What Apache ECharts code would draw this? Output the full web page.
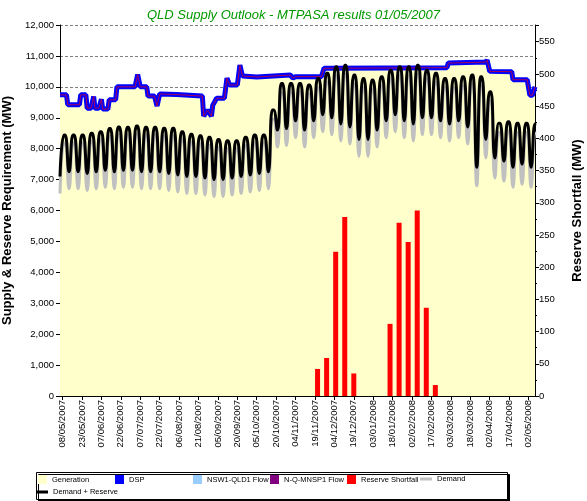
<!DOCTYPE html>
<html>
<head>
<meta charset="utf-8">
<script src="https://cdn.jsdelivr.net/npm/echarts@6/dist/echarts.min.js"></script>
<style>
  html, body { margin: 0; padding: 0; background: #fff; }
  #chart { width: 587px; height: 501px; }
</style>
</head>
<body>
<div id="chart"></div>
<script>
// x = day number, day 0 = Sunday 06/05/2007
var tickLabels = ['08/05/2007','23/05/2007','07/06/2007','22/06/2007','07/07/2007','22/07/2007',
    '06/08/2007','21/08/2007','05/09/2007','20/09/2007','05/10/2007','20/10/2007','04/11/2007',
    '19/11/2007','04/12/2007','19/12/2007','03/01/2008','18/01/2008','02/02/2008','17/02/2008',
    '03/03/2008','18/03/2008','02/04/2008','17/04/2008','02/05/2008'];

// generation (+DSP) level, break points
var supplyDays = [0,5,6,15,16,20,21,24,26,27,30,32,33,37,38,43,44,58,60,62,67,68,73,75,77,90,110,111,114,117,
    118,121,127,129,131,137,139,141,152,178,180,182,202,204,299,300,329,330,332,349,350,361,363,365,367];
var supplyMW = [9740,9740,9420,9420,9740,9740,9310,9310,9690,9310,9310,9600,9280,9280,9580,9580,10000,10000,10400,10000,
    10000,9700,9700,9380,9770,9750,9700,9050,9250,9050,9400,9630,9630,10280,10060,10060,10700,10350,10320,10380,
    10280,10330,10330,10600,10620,10770,10800,10870,10500,10490,10230,10230,9730,9730,10000];

// weekly weekday peak / sunday trough
var resPeak = [8440,8440,8440,8500,8550,8650,8700,8690,8730,8690,
    8690,8660,8660,8550,8470,8420,8370,8300,8260,8260,
    8370,8440,8440,9250,10110,10110,10110,10060,10270,10440,
    10650,10700,10380,10270,10220,10330,10540,10650,10650,10700,
    10540,10440,10270,10270,10330,10380,10330,9840,8820,8870,
    8820,8820,8800];
var resTrough = [7100,7250,7250,7200,7250,7300,7250,7300,7300,7250,
    7250,7250,7200,7150,7100,7100,7050,7000,7000,7050,
    7100,7150,7200,7250,8600,8650,8900,8600,8900,9100,
    9000,8800,8700,8300,8300,8600,8900,9100,8900,8800,
    9000,9000,8900,8800,8900,8700,7400,8300,7700,7600,
    7400,7500,7400];
var demPeak = [8180,8180,8180,8240,8290,8390,8440,8430,8470,8430,
    8430,8400,8400,8290,8210,8160,8110,8040,8000,8000,
    8110,8180,8180,8950,9820,9830,9830,9770,9970,10150,
    10350,10400,10090,9970,9920,10030,10250,10350,10350,10400,
    10250,10150,9970,9970,10030,10090,10030,9550,8520,8570,
    8520,8520,8500];
var demTrough = [6550,6700,6700,6650,6700,6750,6700,6750,6750,6700,
    6700,6700,6650,6600,6550,6550,6500,6450,6450,6500,
    6550,6600,6650,6700,8050,8100,8350,8050,8350,8550,
    8450,8250,8150,7750,7750,8050,8350,8550,8350,8250,
    8450,8450,8350,8250,8350,8150,6800,7700,7050,6950,
    6750,6850,6750];

var shortfallWeeks = [28,29,30,31,32,36,37,38,39,40,41];
var shortfallMW = [42,59,224,278,35,112,269,239,288,137,17];

var chart = echarts.init(document.getElementById('chart'));

var supplyPts = supplyDays.map(function (d, i) { return [d, supplyMW[i]]; });

function weekly(peaks, troughs) {
    var pts = [];
    for (var k = 0; k < peaks.length; k++) {
        pts.push([7 * k, troughs[k]]);
        pts.push([7 * k + 3, peaks[k]]);
        pts.push([7 * k + 4, peaks[k]]);
    }
    return pts;
}
var shortfallPts = shortfallWeeks.map(function (w, i) { return [7 * w + 3, shortfallMW[i]]; });
var tickDays = tickLabels.map(function (t, j) { return 2 + 15 * j; });

function comma(v) { return String(v).replace(/\B(?=(\d{3})+(?!\d))/g, ','); }

var font = 'Liberation Sans';

function legendItem(name, left, top, w, h) {
    return {
        data: [name], left: left, top: top, padding: 0, icon: 'rect',
        itemWidth: w, itemHeight: h, selectedMode: false,
        textStyle: { fontSize: 7.5, color: '#000', fontFamily: font }
    };
}

var option = {
    animation: false,
    backgroundColor: '#fff',
    textStyle: { fontFamily: font },
    title: {
        text: 'QLD Supply Outlook - MTPASA results 01/05/2007',
        left: 'center', top: 4,
        textStyle: { color: '#009900', fontStyle: 'italic', fontWeight: 'normal', fontSize: 13, fontFamily: font }
    },
    grid: { left: 60, right: 52, top: 25, bottom: 105, outerBoundsMode: 'none' },
    legend: [
        legendItem('Generation', 38, 475, 9, 9),
        legendItem('DSP', 115, 475, 9, 9),
        legendItem('NSW1-QLD1 Flow', 193, 475, 9, 9),
        legendItem('N-Q-MNSP1 Flow', 270, 475, 9, 9),
        legendItem('Reserve Shortfall', 347, 475, 9, 9),
        legendItem('Demand', 420, 475, 12, 3),
        legendItem('Demand + Reserve', 37, 488, 11, 3)
    ],
    graphic: [{
        type: 'rect', left: 36, top: 472, z: 0,
        shape: { width: 471, height: 27 },
        style: { fill: '#fff', stroke: '#000', lineWidth: 1, shadowColor: '#000', shadowOffsetX: 2, shadowOffsetY: 2, shadowBlur: 0 }
    }],
    xAxis: {
        type: 'value', min: 0, max: 367,
        axisLine: { lineStyle: { color: '#000' } },
        axisTick: { customValues: tickDays, length: 4, lineStyle: { color: '#000' } },
        axisLabel: {
            customValues: tickDays, rotate: 90, fontSize: 9.5, color: '#000', margin: 4,
            formatter: function (v) { return tickLabels[Math.round((v - 2) / 15)]; }
        },
        splitLine: { show: false }
    },
    yAxis: [{
        type: 'value', min: 0, max: 12000, interval: 1000,
        name: 'Supply & Reserve Requirement (MW)', nameLocation: 'middle', nameGap: 34, nameRotate: 90,
        nameTextStyle: { fontSize: 13, fontWeight: 'bold', color: '#000' },
        axisLine: { show: true, lineStyle: { color: '#000' } },
        axisTick: { show: true, length: 4, lineStyle: { color: '#000' } },
        axisLabel: { fontSize: 9.5, color: '#000', margin: 6, formatter: comma },
        splitLine: { lineStyle: { color: '#808080', type: [3, 2] } }
    }, {
        type: 'value', min: 0, max: 576, interval: 50, position: 'right',
        name: 'Reserve Shortfall (MW)', nameLocation: 'middle', nameGap: 36, nameRotate: 90,
        nameTextStyle: { fontSize: 13, fontWeight: 'bold', color: '#000' },
        axisLine: { show: true, lineStyle: { color: '#000' } },
        axisTick: { show: true, length: 4, lineStyle: { color: '#000' } },
        minorTick: { show: true, splitNumber: 2, length: 2, lineStyle: { color: '#000' } },
        axisLabel: { fontSize: 9.5, color: '#000', margin: 4, showMaxLabel: false },
        splitLine: { show: false }
    }],
    series: [
        {
            name: 'Generation', type: 'line', data: supplyPts, symbol: 'none', z: 1,
            lineStyle: { width: 0, opacity: 0 },
            areaStyle: { color: '#FFFFCC', opacity: 1 },
            itemStyle: { color: '#FFFFCC' }
        },
        {
            name: 'DSP', type: 'line', data: supplyPts, symbol: 'none', z: 2,
            lineStyle: { width: 5, color: '#0000FF' },
            itemStyle: { color: '#0000FF' }
        },
        {
            name: 'edge', type: 'line', data: supplyPts, symbol: 'none', z: 3,
            lineStyle: { width: 1, color: '#A0005A' }
        },
        { name: 'NSW1-QLD1 Flow', type: 'line', data: [], itemStyle: { color: '#99CCFF' } },
        { name: 'N-Q-MNSP1 Flow', type: 'line', data: [], itemStyle: { color: '#800080' } },
        {
            name: 'Demand', type: 'line', data: weekly(demPeak, demTrough), symbol: 'none', smooth: 0.5, z: 4,
            lineStyle: { width: 3, color: '#C0C0C0' },
            itemStyle: { color: '#C0C0C0' }
        },
        {
            name: 'Demand + Reserve', type: 'line', data: weekly(resPeak, resTrough), symbol: 'none', smooth: 0.5, z: 5,
            lineStyle: { width: 3, color: '#000' },
            itemStyle: { color: '#000' }
        },
        {
            name: 'Reserve Shortfall', type: 'bar', yAxisIndex: 1, data: shortfallPts, barWidth: 5, z: 6,
            itemStyle: { color: '#FF0000' }
        }
    ]
};
chart.setOption(option);
window.addEventListener('resize', function () { chart.resize(); });
</script>
</body>
</html>
